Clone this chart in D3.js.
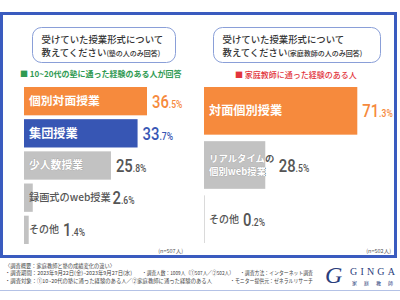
<!DOCTYPE html>
<html><head><meta charset="utf-8">
<script src="https://cdn.jsdelivr.net/npm/d3@7/dist/d3.min.js"></script>
<style>
html,body{margin:0;padding:0;background:#fff;}
svg{display:block;font-family:"Noto Sans CJK JP","Noto Sans",sans-serif;}
</style></head>
<body>
<svg id="c" width="400" height="300"></svg>
<script>
// ---- data ----
const leftCategories = ["個別対面授業", "集団授業", "少人数授業", "録画式のweb授業", "その他"];
const leftValues = [36.5, 33.7, 25.8, 2.6, 1.4];
const rightCategories = ["対面個別授業", "リアルタイムの\n個別web授業", "その他"];
const rightValues = [71.3, 28.5, 0.2];
const leftTitle = ["受けていた授業形式について", "教えてください", "(塾の人のみ回答)"];
const rightTitle = ["受けていた授業形式について", "教えてください", "(家庭教師の人のみ回答)"];
const leftSub = "■ 10~20代の塾に通った経験のある人が回答";
const rightSub = "■ 家庭教師に通った経験のある人";
const leftN = "(n=507人)";
const rightN = "(n=502人)";
const notes = [
  ["〈調査概要：家庭教師と塾の成績変化の違い〉"],
  ["・調査期間：2023年9月22日(金)~2023年9月27日(水)", "・調査人数：1009人（①507人／②502人）", "・調査方法：インターネット調査"],
  ["・調査対象：①10~20代の塾に通った経験のある人／②家庭教師に通った経験のある人", "・モニター提供元：ゼネラルリサーチ"]
];
// footnote segment layout [x, width]
const noteLayout = [
  [[5, 110]],
  [[5, 127], [142, 92], [240, 73]],
  [[5, 207], [230, 83]]
];

const ORANGE = "#f68a3d", BLUE = "#3756b4", GRAY = "#c2c2c2", DARK = "#555";
const svg = d3.select("#c");
const defs = svg.append("defs");

// estimate text width (CJK full-width = 1em, ascii ≈ 0.6em)
function estWidth(s, size) {
  let w = 0;
  for (const ch of s) w += (ch.charCodeAt(0) > 0x2000 ? 1 : 0.6) * size;
  return w;
}

// frame
svg.append("rect").attr("x", 1.5).attr("y", 13.5).attr("width", 394).attr("height", 243)
  .attr("fill", "none").attr("stroke", "#3a5bbf").attr("stroke-width", 3);

function titleBox(x, y, w, h, lines) {
  svg.append("rect").attr("x", x).attr("y", y).attr("width", w).attr("height", h)
    .attr("rx", 9).attr("fill", "#fff").attr("stroke", "#8a9fd8").attr("stroke-width", 1);
  svg.append("text").attr("x", x + 9).attr("y", y + 15.5).attr("font-size", 9.4)
    .attr("font-weight", 500).attr("fill", "#333").text(lines[0]);
  const t2 = svg.append("text").attr("x", x + 9).attr("y", y + 28).attr("font-size", 9.4)
    .attr("font-weight", 500).attr("fill", "#333");
  t2.append("tspan").text(lines[1]);
  t2.append("tspan").attr("font-size", 7).text(lines[2]);
}
titleBox(32.5, 27.5, 143, 35, leftTitle);
titleBox(213.5, 27.5, 167, 35, rightTitle);

svg.append("text").attr("x", 20).attr("y", 77).attr("font-size", 8).attr("font-weight", 700)
  .attr("fill", "#2f9a52").text(leftSub);
svg.append("text").attr("x", 235).attr("y", 78).attr("font-size", 8).attr("font-weight", 500)
  .attr("fill", "#e2343c").text(rightSub);

function valueLabel(g, x, yc, v, color) {
  const s = v.toFixed(1).split(".");
  const gg = g.append("g").attr("transform", `translate(${x},${yc + 6.5}) scale(0.78,1)`);
  const t = gg.append("text").attr("font-family", "Roboto, sans-serif").attr("fill", color)
    .attr("font-weight", 500);
  t.append("tspan").attr("font-size", 19).text(s[0]);
  t.append("tspan").attr("font-size", 11).text("." + s[1] + "%");
}

let clipId = 0;
function chart(cats, vals, x0, x1, y0, y1, colors, sizes, lineGap, nText, nX) {
  const g = svg.append("g");
  const x = d3.scaleLinear().domain([0, 100]).range([x0, x1]);
  const y = d3.scaleBand().domain(cats).range([y0, y1]).paddingInner(0.12);
  cats.forEach((c, i) => {
    const v = vals[i];
    const bw = Math.max(x(v) - x0, 0.6);
    g.append("rect").attr("x", x0).attr("y", y(c)).attr("width", bw)
      .attr("height", y.bandwidth()).attr("fill", colors[i]);
    const lines = c.split("\n");
    const yc = y(c) + y.bandwidth() / 2;
    const lw = d3.max(lines, ln => estWidth(ln, sizes[i]));
    const inside = x0 + 5 + lw < x(v);
    const mostly = x0 + 5 + lw * 0.5 < x(v);
    if (lines.length === 1) {
      const t = g.append("text").attr("font-size", sizes[i]).attr("font-weight", 700)
        .attr("x", x0 + 5).attr("y", yc + sizes[i] * 0.36).text(c);
      if (inside) {
        t.attr("fill", "#fff");
        if (colors[i] === GRAY) t.attr("stroke", "#9a9a9a").attr("stroke-width", 0.5).attr("paint-order", "stroke");
      } else {
        t.attr("fill", DARK).attr("font-weight", 500);
      }
    } else {
      // multi-line label: white inside bar, dark outside bar (clipped)
      const idIn = "clipIn" + (clipId++), idOut = "clipOut" + (clipId++);
      defs.append("clipPath").attr("id", idIn).append("rect")
        .attr("x", x0).attr("y", y(c)).attr("width", bw).attr("height", y.bandwidth());
      defs.append("clipPath").attr("id", idOut).append("rect")
        .attr("x", x(v)).attr("y", y(c)).attr("width", 200).attr("height", y.bandwidth());
      lines.forEach((ln, j) => {
        const ly = yc + sizes[i] * 0.36 + (j - (lines.length - 1) / 2) * lineGap;
        g.append("text").attr("font-size", sizes[i]).attr("font-weight", 700)
          .attr("x", x0 + 5).attr("y", ly).attr("fill", "#fff")
          .attr("stroke", "#9a9a9a").attr("stroke-width", 0.5).attr("paint-order", "stroke")
          .attr("clip-path", `url(#${idIn})`).text(ln);
        g.append("text").attr("font-size", sizes[i]).attr("font-weight", 700)
          .attr("x", x0 + 5).attr("y", ly).attr("fill", DARK)
          .attr("clip-path", `url(#${idOut})`).text(ln);
      });
    }
    const vx = inside ? x(v) + 5 : x0 + 5 + lw + 4;
    const vc = i === 0 ? ORANGE : (colors[i] === BLUE ? BLUE : DARK);
    valueLabel(g, vx, yc, v, vc);
  });
  svg.append("text").attr("x", nX).attr("y", 253).attr("text-anchor", "end")
    .attr("font-size", 5.5).attr("fill", DARK).text(nText);
}

chart(leftCategories, leftValues, 24, 24 + 337, 87, 244,
  [ORANGE, BLUE, GRAY, GRAY, GRAY], [11.8, 12.2, 10.8, 10.2, 10], 12, leftN, 183);
chart(rightCategories, rightValues, 204, 204 + 215, 87, 243,
  [ORANGE, GRAY, GRAY], [12.2, 9.4, 10], 13, rightN, 391);

// footnotes
notes.forEach((row, r) => {
  row.forEach((s, k) => {
    const [nx, nw] = noteLayout[r][k];
    svg.append("text").attr("x", nx).attr("y", 268 + r * 7.3).attr("font-size", 5.4)
      .attr("fill", "#444").attr("textLength", nw).attr("lengthAdjust", "spacingAndGlyphs").text(s);
  });
});

// logo
const lg = svg.append("g").attr("fill", "#2a3d7c");
lg.append("text").attr("x", 325).attr("y", 283).attr("font-size", 24)
  .attr("font-family", "Liberation Serif, serif").attr("font-style", "italic").text("G");
lg.append("text").attr("x", 350).attr("y", 275).attr("font-size", 10)
  .attr("font-family", "Liberation Serif, serif").attr("letter-spacing", 3.2).text("GINGA");
const kanji = ["家", "庭", "教", "師"];
kanji.forEach((k, i) => lg.append("text").attr("x", 352 + i * 12).attr("y", 285)
  .attr("font-size", 5).text(k));

svg.append("line").attr("x1", 0).attr("x2", 400).attr("y1", 290.5).attr("y2", 290.5)
  .attr("stroke", "#b4c2e6").attr("stroke-width", 1);
</script>
</body></html>
